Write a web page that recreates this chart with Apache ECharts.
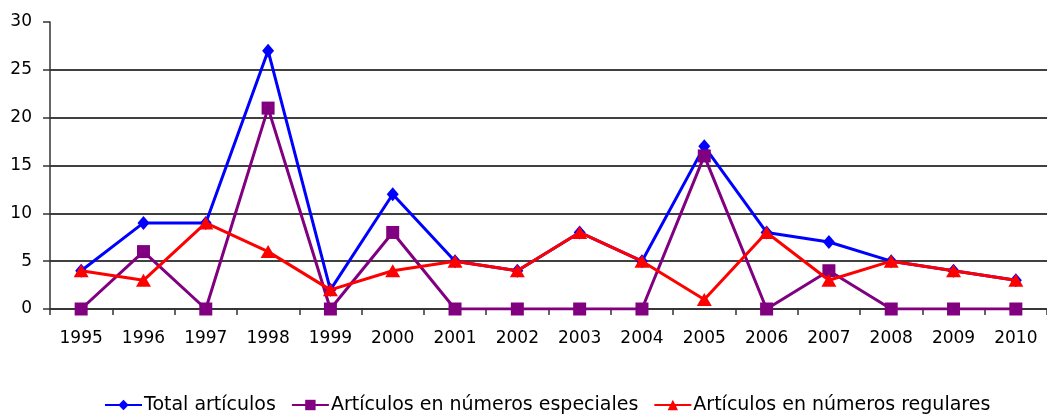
<!DOCTYPE html>
<html>
<head>
<meta charset="utf-8">
<script src="https://cdn.jsdelivr.net/npm/echarts@6/dist/echarts.min.js"></script>
<style>html,body{margin:0;padding:0;background:#fff;}#c{width:1047px;height:414px;}</style>
</head>
<body>
<div id="c"></div>
<script>
const years = ['1995','1996','1997','1998','1999','2000','2001','2002','2003','2004','2005','2006','2007','2008','2009','2010'];
const totalArticulos = [4, 9, 9, 27, 2, 12, 5, 4, 8, 5, 17, 8, 7, 5, 4, 3];
const especiales = [0, 6, 0, 21, 0, 8, 0, 0, 0, 0, 16, 0, 4, 0, 0, 0];
const regulares = [4, 3, 9, 6, 2, 4, 5, 4, 8, 5, 1, 8, 3, 5, 4, 3];
const seriesNames = ['Total artículos', 'Artículos en números especiales', 'Artículos en números regulares'];

const chart = echarts.init(document.getElementById('c'), null, {renderer: 'canvas'});
const FONT = 'DejaVu Sans';
chart.setOption({
  animation: false,
  backgroundColor: '#fff',
  grid: {left: 50, top: 22, width: 1009, height: 287, containLabel: false},
  legend: {
    top: 393, left: 104, padding: 0,
    itemWidth: 37, itemHeight: 13, itemGap: 15,
    textStyle: {fontFamily: FONT, fontSize: 19, lineHeight: 24, color: '#000', padding: [0,0,0,-3]},
    data: seriesNames
  },
  xAxis: {
    type: 'category', data: years, boundaryGap: true,
    axisLine: {lineStyle: {color: '#333', width: 1.5}},
    axisTick: {show: true, length: 6, lineStyle: {color: '#333', width: 1.5}},
    axisLabel: {fontFamily: FONT, fontSize: 17, color: '#000', margin: 21, interval: 0}
  },
  yAxis: {
    type: 'value', min: 0, max: 30, interval: 5,
    axisLine: {show: true, lineStyle: {color: '#333', width: 1.5}},
    axisTick: {show: true, length: 7, lineStyle: {color: '#333', width: 1.5}},
    axisLabel: {fontFamily: FONT, fontSize: 17, color: '#000', margin: 18},
    splitLine: {show: true, showMaxLine: false, lineStyle: {color: '#000', width: 1.5}}
  },
  series: [
    {name: seriesNames[0], type: 'line', data: totalArticulos, symbol: 'diamond', symbolSize: [12, 14],
     lineStyle: {color: '#0000FF', width: 3}, itemStyle: {color: '#0000FF'}, z: 2},
    {name: seriesNames[1], type: 'line', data: especiales, symbol: 'rect', symbolSize: 13,
     lineStyle: {color: '#800080', width: 3}, itemStyle: {color: '#800080'}, z: 3},
    {name: seriesNames[2], type: 'line', data: regulares, symbol: 'triangle', symbolSize: [15, 13],
     lineStyle: {color: '#FF0000', width: 3}, itemStyle: {color: '#FF0000'}, z: 4}
  ]
});
</script>
</body>
</html>
